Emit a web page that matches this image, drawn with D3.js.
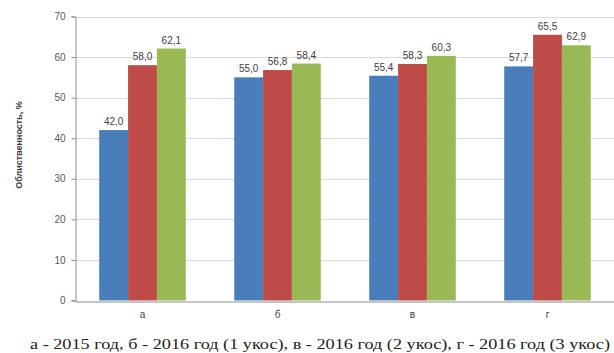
<!DOCTYPE html>
<html>
<head>
<meta charset="utf-8">
<script src="https://cdn.jsdelivr.net/npm/d3@7"></script>
<style>
  body { margin: 0; background: #fff; }
  svg { display: block; }
</style>
</head>
<body>
<div id="chart"></div>
<script>
const categories = ['а', 'б', 'в', 'г']
const series2015 = [42.0, 55.0, 55.4, 57.7]
const series2016a = [58.0, 56.8, 58.3, 65.5]
const series2016b = [62.1, 58.4, 60.3, 62.9]
const yTicks = [0, 10, 20, 30, 40, 50, 60, 70]
const colors = ['#4a7ebb', '#be4b48', '#98b954']
const yTitle = 'Облиственность, %'
const caption = 'а - 2015 год, б - 2016 год (1 укос), в - 2016 год (2 укос), г - 2016 год (3 укос)'

const width = 614
const height = 353
const margin = { left: 75, right: 0, top: 16, bottom: 52 }

const svg = d3.select('#chart').append('svg')
  .attr('width', width)
  .attr('height', height)

const x = d3.scaleBand()
  .domain(categories)
  .range([margin.left, margin.left + 540])

const x1 = d3.scaleBand()
  .domain([0, 1, 2])
  .range([0, x.bandwidth()])
  .paddingOuter(0.84)

const y = d3.scaleLinear()
  .domain([0, 70])
  .range([height - margin.bottom - 0.5, margin.top + 0.5])

// gridlines
svg.append('g')
  .selectAll('line')
  .data(yTicks.slice(1))
  .enter()
  .append('line')
  .attr('x1', margin.left)
  .attr('x2', width)
  .attr('y1', d => Math.round(y(d)) + 0.5)
  .attr('y2', d => Math.round(y(d)) + 0.5)
  .attr('stroke', '#d9d9d9')

// bars
const seriesList = [series2015, series2016a, series2016b]
const groups = svg.append('g')
  .selectAll('g')
  .data(categories)
  .enter()
  .append('g')
  .attr('transform', d => `translate(${x(d)},0)`)

groups.selectAll('rect')
  .data((d, i) => seriesList.map((s, k) => ({ k, v: s[i] })))
  .enter()
  .append('rect')
  .attr('x', d => x1(d.k))
  .attr('width', x1.bandwidth())
  .attr('y', d => y(d.v))
  .attr('height', d => y(0) - y(d.v))
  .attr('fill', d => colors[d.k])

groups.selectAll('text')
  .data((d, i) => seriesList.map((s, k) => ({ k, v: s[i] })))
  .enter()
  .append('text')
  .attr('x', d => x1(d.k) + x1.bandwidth() / 2)
  .attr('y', d => y(d.v) - 5)
  .attr('text-anchor', 'middle')
  .attr('font-family', 'Liberation Sans, Arial, sans-serif')
  .attr('font-size', 10)
  .attr('fill', '#404040')
  .text(d => d.v.toFixed(1).replace('.', ','))

// y axis
const yAxis = svg.append('g')
  .attr('transform', `translate(${margin.left + 0.5},0)`)
  .call(d3.axisLeft(y).tickValues(yTicks).tickSize(4).tickPadding(6))
yAxis.select('.domain').attr('stroke', '#8c8c8c')
yAxis.selectAll('.tick line').attr('stroke', '#8c8c8c')
yAxis.selectAll('.tick text')
  .attr('font-family', 'Liberation Sans, Arial, sans-serif')
  .attr('font-size', 10)
  .attr('fill', '#595959')

// x axis
const xAxis = svg.append('g')
  .attr('transform', `translate(0,${Math.round(y(0)) + 0.5})`)
  .call(d3.axisBottom(x).tickSize(0).tickPadding(9))
xAxis.select('.domain').attr('stroke', '#8c8c8c')
xAxis.selectAll('.tick text')
  .attr('font-family', 'Liberation Sans, Arial, sans-serif')
  .attr('font-size', 10)
  .attr('fill', '#404040')

// y title
svg.append('text')
  .attr('transform', 'translate(22,145) rotate(-90)')
  .attr('text-anchor', 'middle')
  .attr('font-family', 'Liberation Sans, Arial, sans-serif')
  .attr('font-size', 9)
  .attr('font-weight', 'bold')
  .attr('fill', '#404040')
  .text(yTitle)

// caption
svg.append('text')
  .attr('x', 30)
  .attr('y', 349)
  .attr('font-family', 'Liberation Serif, Times New Roman, serif')
  .attr('font-size', 15.5)
  .attr('fill', '#222')
  .attr('textLength', 580)
  .attr('lengthAdjust', 'spacingAndGlyphs')
  .text(caption)
</script>
</body>
</html>
